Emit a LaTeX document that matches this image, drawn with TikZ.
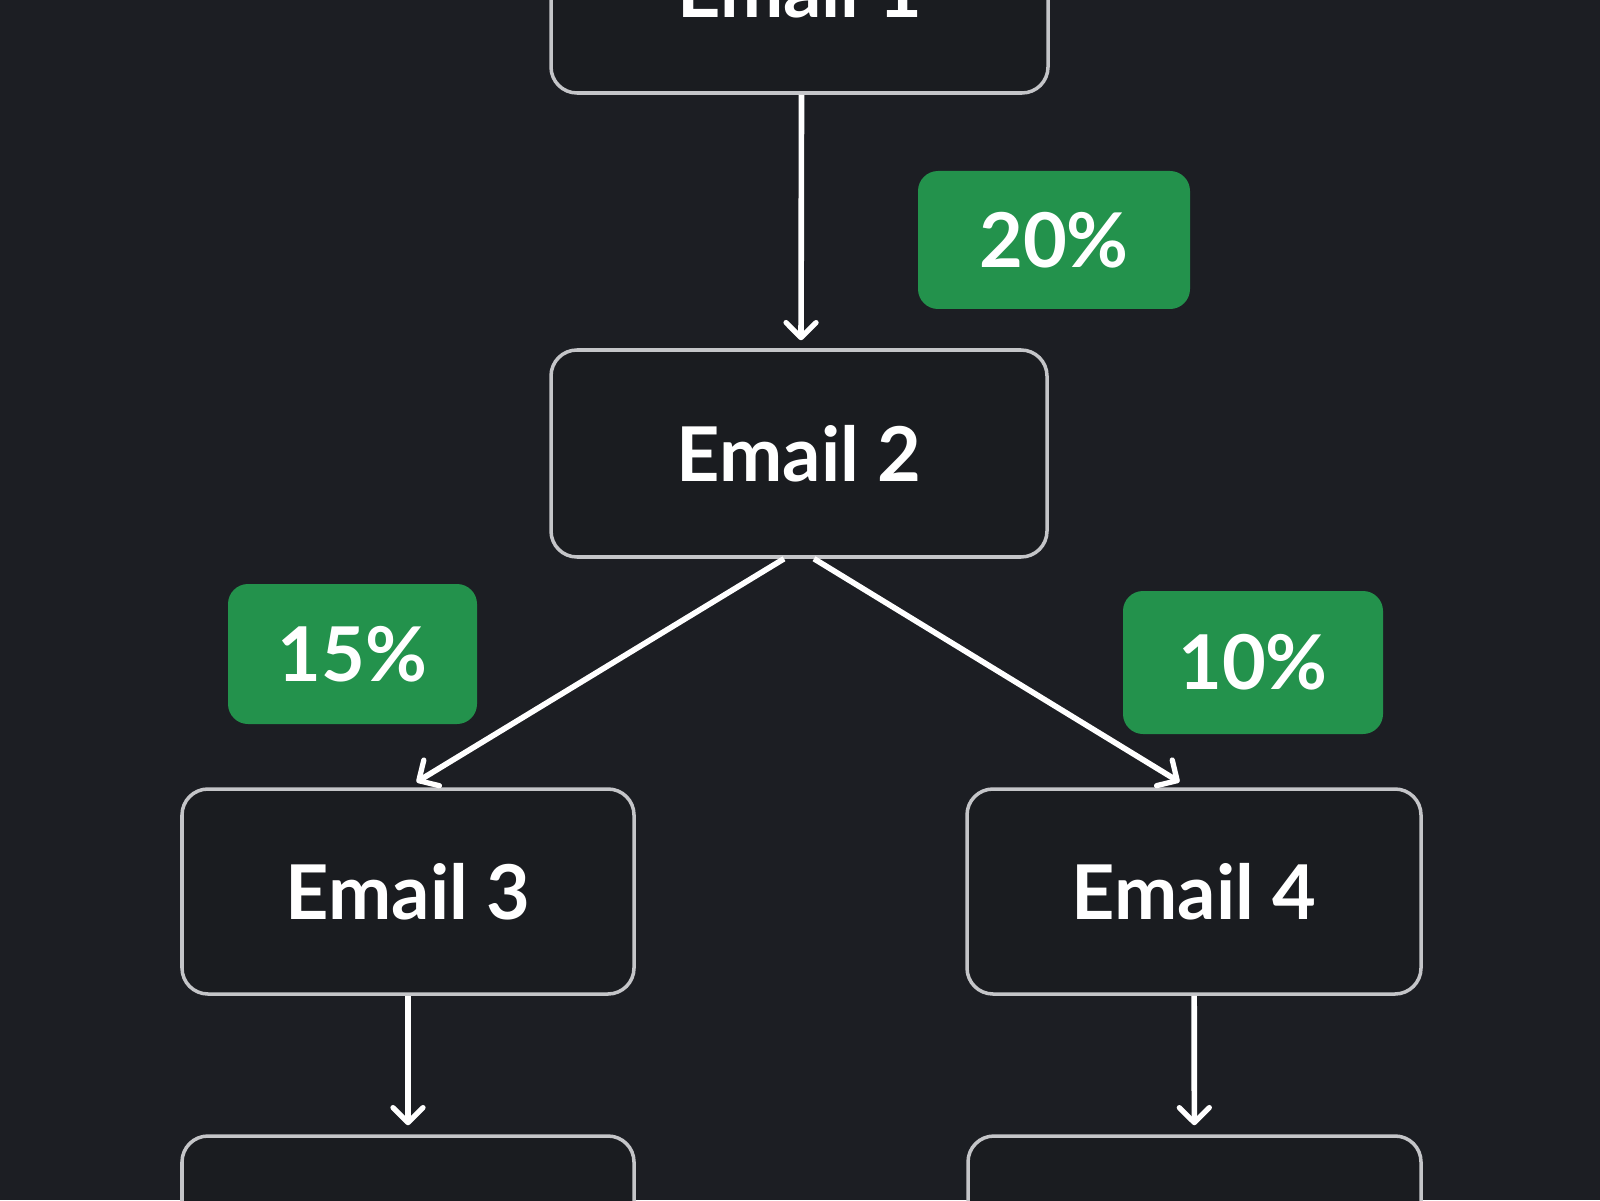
\documentclass[tikz,border=0pt]{standalone}
\usepackage{fontspec}
\setmainfont{Lato}
\usetikzlibrary{arrows.meta}
\definecolor{bgdark}{HTML}{1C1E23}
\definecolor{boxdark}{HTML}{1A1C20}
\definecolor{edgegray}{HTML}{C4C5C8}
\definecolor{rategreen}{HTML}{23924C}
\begin{document}
\begin{tikzpicture}[>={Straight Barb[length=0.15cm,width=0.3cm,line width=1.5pt,round]},line width=1.6pt]
    \tikzstyle{nodeE}=[rectangle, draw=edgegray, line width=1pt, fill=boxdark, rounded corners=0.26cm, inner sep=0pt, text=white, font=\fontsize{21.5}{26}\selectfont\bfseries]
    \tikzstyle{nodeP}=[rectangle, fill=rategreen, rounded corners=0.2cm, inner sep=0pt, text=white, font=\fontsize{21.5}{26}\selectfont\bfseries]
    \fill[bgdark] (0,0) rectangle (16,12);
    \useasboundingbox (0,0) rectangle (16,12);
    \clip (0,0) rectangle (16,12);
    % email steps
    \node[nodeE, minimum width=4.97cm, minimum height=2.07cm] (first) at (7.995,12.105) {Email 1};
    \node[nodeE, minimum width=4.96cm, minimum height=2.07cm] (second) at (7.99,7.465) {Email 2};
    \node[nodeE, minimum width=4.52cm, minimum height=2.05cm] (third) at (4.08,3.085) {Email 3};
    \node[nodeE, minimum width=4.54cm, minimum height=2.05cm] (fourth) at (11.94,3.085) {Email 4};
    \node[nodeE, minimum width=4.52cm, minimum height=2.05cm] (fifth) at (4.08,-0.385) {};
    \node[nodeE, minimum width=4.53cm, minimum height=2.05cm] (sixth) at (11.945,-0.385) {};
    % rates
    \node[nodeP, minimum width=2.72cm, minimum height=1.38cm] (rateA) at (10.54,9.60) {20\%};
    \node[nodeP, minimum width=2.49cm, minimum height=1.40cm] (rateB) at (3.525,5.46) {15\%};
    \node[nodeP, minimum width=2.60cm, minimum height=1.43cm] (rateC) at (12.53,5.375) {10\%};
    % arrows
    \draw[->, white, shorten >=0.08cm] ([xshift=0.02cm]first.south) -- ([xshift=0.02cm]second.north);
    \draw[->, white, shorten >=0.1cm] ([xshift=-0.15cm]second.south) -- (third.north);
    \draw[->, white, shorten >=0.1cm] ([xshift=0.15cm]second.south) -- ([xshift=-0.06cm]fourth.north);
    \draw[->, white, shorten >=0.09cm] (third) -- (fifth);
    \draw[->, white, shorten >=0.09cm] (fourth) -- (sixth);
  \end{tikzpicture}
\end{document}
